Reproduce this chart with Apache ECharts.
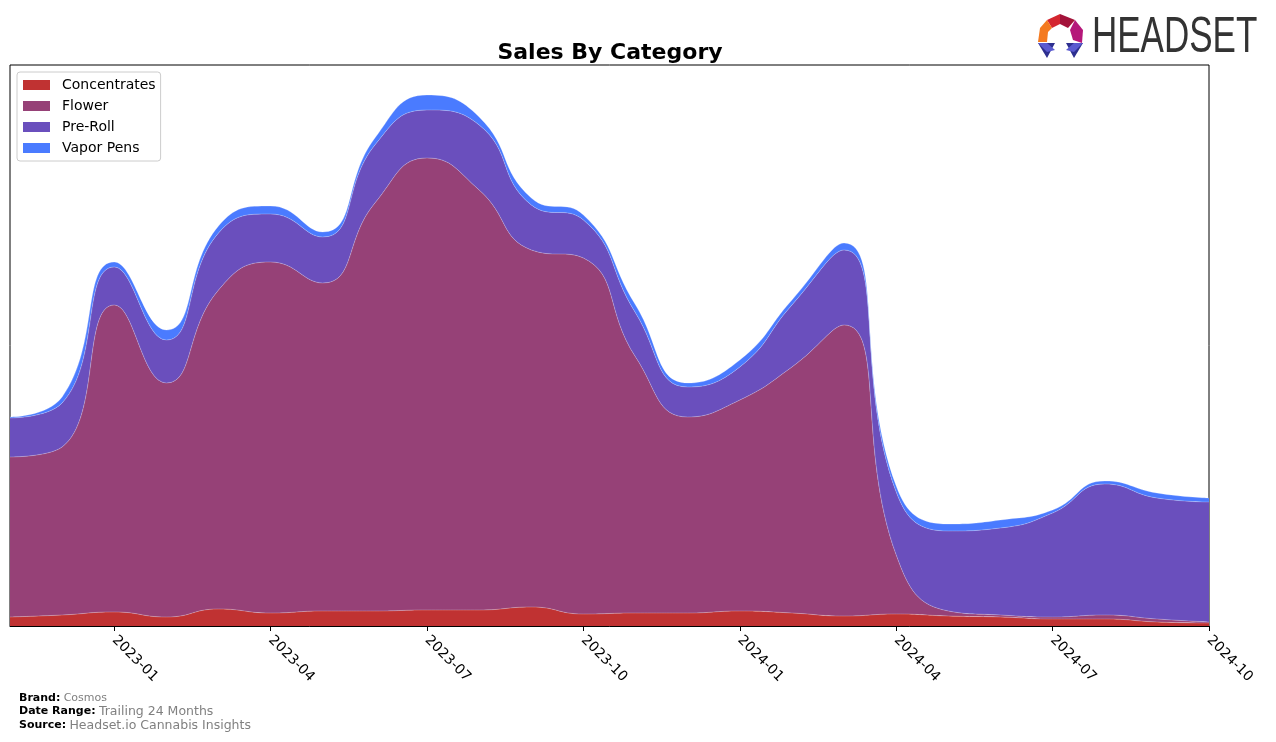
<!DOCTYPE html>
<html>
<head>
<meta charset="utf-8">
<script src="https://cdn.jsdelivr.net/npm/echarts@6/dist/echarts.min.js"></script>
<style>
html,body{margin:0;padding:0;background:#fff;}
#chart{width:1276px;height:742px;}
</style>
</head>
<body>
<div id="chart"></div>
<script>
// Monthly categories (trailing 24 months)
var months = ["2022-11","2022-12","2023-01","2023-02","2023-03","2023-04","2023-05","2023-06",
  "2023-07","2023-08","2023-09","2023-10","2023-11","2023-12","2024-01","2024-02",
  "2024-03","2024-04","2024-05","2024-06","2024-07","2024-08","2024-09","2024-10"];
// Sales by category (arbitrary units)
var concentrates = [9,11,14,9,17,13,15,15,16,16,19,12,13,13,15,13,10,12,10,9,7,7,4,3];
var flower       = [160,168,307,234,319,351,328,408,452,420,357,356,256,196,211,246,291,59,5,2,2,4,3,1];
var preRoll      = [39,44,38,43,57,48,46,58,48,65,45,38,44,30,33,62,75,63,80,87,104,131,121,120];
var vaporPens    = [1,6,5,10,7,8,5,7,15,8,7,5,8,4,7,5,7,6,7,8,3,3,5,4];
var tickMonths = ["01","04","07","10"];

var colors = {
  "Concentrates": "#c03232",
  "Flower": "#964177",
  "Pre-Roll": "#6a4fbd",
  "Vapor Pens": "#4a7bff"
};

function mkSeries(name, data) {
  return {
    name: name,
    type: 'line',
    stack: 'total',
    smooth: 0.5,
    symbol: 'none',
    data: data,
    itemStyle: {color: colors[name]},
    lineStyle: {width: 0.8, color: 'rgba(255,255,255,0.3)'},
    areaStyle: {color: colors[name], opacity: 1},
    emphasis: {disabled: true}
  };
}

function showTick(index) {
  var m = months[index].slice(5);
  return tickMonths.indexOf(m) >= 0;
}

var chart = echarts.init(document.getElementById('chart'), null, {renderer: 'canvas'});
var option = {
  animation: false,
  backgroundColor: '#fff',
  title: {
    text: 'Sales By Category',
    left: 605, top: 37, textAlign: 'center',
    textStyle: {fontFamily: 'DejaVu Sans', fontWeight: 'bold', fontSize: 22, color: '#000'}
  },
  legend: {
    orient: 'vertical',
    left: 17, top: 72,
    backgroundColor: '#fff',
    borderColor: '#cccccc', borderWidth: 1, borderRadius: 3,
    padding: [6, 5, 6, 6],
    itemWidth: 27, itemHeight: 10, itemGap: 7,
    icon: 'rect',
    textStyle: {fontFamily: 'DejaVu Sans', fontSize: 14, color: '#000', padding: [0, 0, 0, 7]},
    data: ['Concentrates', 'Flower', 'Pre-Roll', 'Vapor Pens']
  },
  grid: {
    left: 10, right: 67, top: 65, bottom: 116,
    show: true, borderColor: '#000', borderWidth: 1, backgroundColor: 'transparent'
  },
  xAxis: {
    type: 'category',
    data: months,
    boundaryGap: false,
    axisLine: {show: true, lineStyle: {color: '#000', width: 1}},
    axisTick: {show: true, interval: function (i) { return showTick(i); }, length: 5, lineStyle: {color: '#000'}},
    axisLabel: {
      interval: function (i) { return showTick(i); },
      rotate: -45, margin: 12,
      fontFamily: 'DejaVu Sans', fontSize: 14, color: '#000'
    },
    splitLine: {show: false}
  },
  yAxis: {
    type: 'value', min: 0, max: 561,
    axisLine: {show: false}, axisTick: {show: false}, axisLabel: {show: false}, splitLine: {show: false}
  },
  series: [
    mkSeries('Concentrates', concentrates),
    mkSeries('Flower', flower),
    mkSeries('Pre-Roll', preRoll),
    mkSeries('Vapor Pens', vaporPens)
  ],
  graphic: [
    // Headset logo icon
    {type: 'polygon', shape: {points: [[1047,20],[1060,14],[1060,24],[1052,28]]}, style: {fill: '#d4262f'}},
    {type: 'polygon', shape: {points: [[1060,14],[1075,20],[1068,28],[1060,24]]}, style: {fill: '#a3133a'}},
    {type: 'polygon', shape: {points: [[1075,20],[1083,30],[1082,43],[1073,40],[1070,30]]}, style: {fill: '#b5177a'}},
    {type: 'polygon', shape: {points: [[1047,20],[1052,28],[1048,32],[1047,42],[1038,42],[1040,28]]}, style: {fill: '#f47a20'}},
    {type: 'polygon', shape: {points: [[1038,43],[1055,43],[1047,58]]}, style: {fill: '#2d2f8f'}},
    {type: 'polygon', shape: {points: [[1038,43],[1047,43],[1055,50],[1047,52]]}, style: {fill: '#5a5ad0'}},
    {type: 'polygon', shape: {points: [[1066,43],[1083,43],[1074,58]]}, style: {fill: '#2d2f8f'}},
    {type: 'polygon', shape: {points: [[1083,43],[1074,43],[1066,50],[1074,52]]}, style: {fill: '#5a5ad0'}},
    {type: 'text', left: 1092, top: 13, scaleX: 0.7,
      style: {text: 'HEADSET', fill: '#333333', font: '50px "Liberation Sans"'}},
    // footer
    {type: 'text', left: 19, top: 692, style: {
      text: '{b|Brand:} {g1|Cosmos}',
      rich: {b: {fontFamily: 'DejaVu Sans', fontWeight: 'bold', fontSize: 11, fill: '#000'},
             g1: {fontFamily: 'DejaVu Sans', fontSize: 11, fill: '#808080'}}}},
    {type: 'text', left: 19, top: 705, style: {
      text: '{b|Date Range:} {g|Trailing 24 Months}',
      rich: {b: {fontFamily: 'DejaVu Sans', fontWeight: 'bold', fontSize: 11, fill: '#000'},
             g: {fontFamily: 'DejaVu Sans', fontSize: 12.5, fill: '#808080'}}}},
    {type: 'text', left: 19, top: 719, style: {
      text: '{b|Source:} {g|Headset.io Cannabis Insights}',
      rich: {b: {fontFamily: 'DejaVu Sans', fontWeight: 'bold', fontSize: 11, fill: '#000'},
             g: {fontFamily: 'DejaVu Sans', fontSize: 12.5, fill: '#808080'}}}}
  ]
};
chart.setOption(option);
</script>
</body>
</html>
